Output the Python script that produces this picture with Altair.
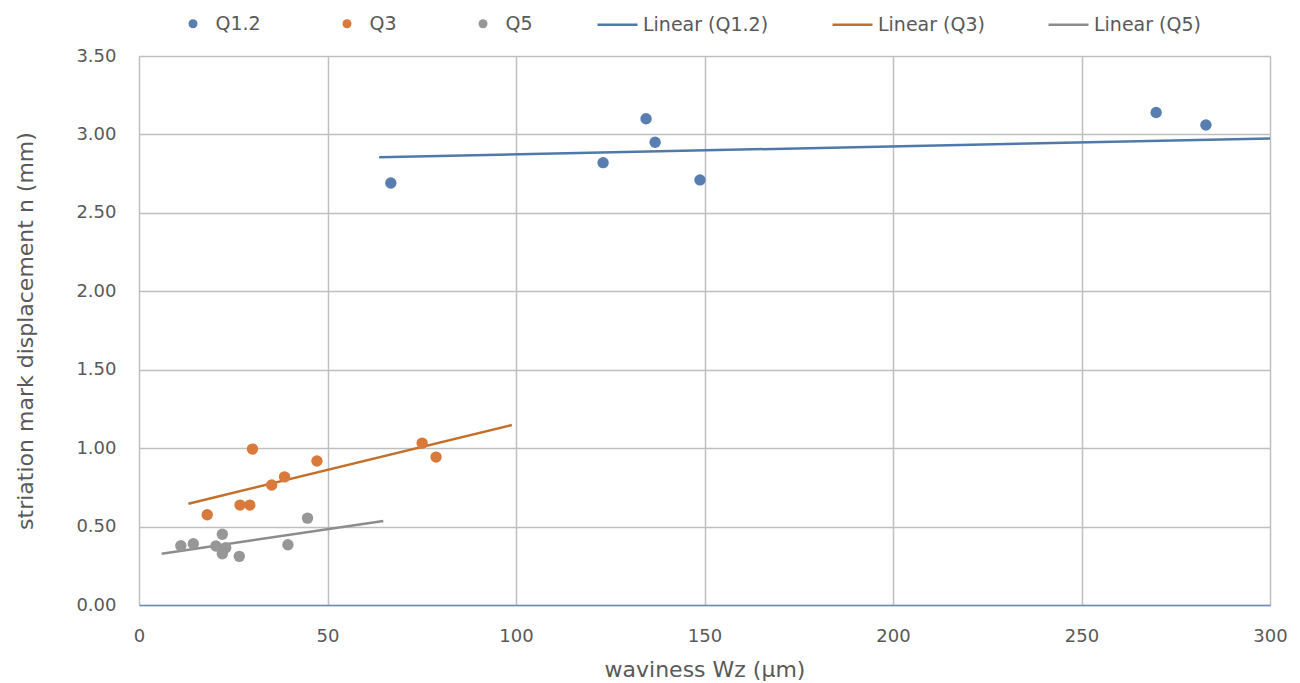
import altair as alt
import pandas as pd

# ---- data ----
series_names = ["Q1.2", "Q3", "Q5"]
q12_x = [66.8, 123.1, 134.5, 136.9, 148.8, 269.8, 283.0]
q12_y = [2.69, 2.82, 3.10, 2.95, 2.71, 3.14, 3.06]
q3_x = [18.1, 26.8, 29.4, 30.1, 35.2, 38.6, 47.2, 75.1, 78.8]
q3_y = [0.575, 0.637, 0.637, 0.994, 0.765, 0.817, 0.918, 1.032, 0.943]
q5_x = [11.1, 14.4, 20.4, 22.1, 23.0, 22.1, 26.6, 39.5, 44.7]
q5_y = [0.378, 0.391, 0.376, 0.451, 0.365, 0.327, 0.310, 0.384, 0.554]

trend_names = ["Linear (Q1.2)", "Linear (Q3)", "Linear (Q5)"]
trend_x_start = [63.7, 13.1, 6.0]
trend_x_end = [300.0, 98.9, 64.8]
trend_y_start = [2.855, 0.646, 0.327]
trend_y_end = [2.974, 1.147, 0.535]

x_ticks = [0, 50, 100, 150, 200, 250, 300]
y_ticks = [0, 0.5, 1.0, 1.5, 2.0, 2.5, 3.0, 3.5]

point_colors = ["#587eb1", "#d9793b", "#979797"]
line_colors = ["#4f79aa", "#c46f2a", "#8c8c8c"]

# ---- tables ----
rows = []
for name, xs, ys in zip(series_names, [q12_x, q3_x, q5_x], [q12_y, q3_y, q5_y]):
    for xv, yv in zip(xs, ys):
        rows.append({"series": name, "x": xv, "y": yv})
points = pd.DataFrame(rows)

lrows = []
for name, x0, x1, y0, y1 in zip(trend_names, trend_x_start, trend_x_end, trend_y_start, trend_y_end):
    lrows.append({"trend": name, "x": x0, "y": y0})
    lrows.append({"trend": name, "x": x1, "y": y1})
lines = pd.DataFrame(lrows)

FONT = "DejaVu Sans"
TXT = "#595959"

x_scale = alt.Scale(domain=[0, 300], nice=False, zero=False)
y_scale = alt.Scale(domain=[0, 3.5], nice=False, zero=False)

x_axis = alt.Axis(
    values=x_ticks, title="waviness Wz (µm)", grid=True, gridColor="#bfbfbf", gridWidth=1.5,
    domain=True, domainColor="#6a8dbd", domainWidth=1.5, ticks=False, tickSize=0,
    labelFont=FONT, labelFontSize=18, labelColor=TXT, labelPadding=22, labelFlush=False,
    titleFont=FONT, titleFontSize=22, titleFontWeight="normal", titleColor=TXT,
    titleY=71, titleBaseline="alphabetic",
)
y_axis = alt.Axis(
    values=y_ticks, format=".2f", title="striation mark displacement n (mm)", grid=True,
    gridColor="#bfbfbf", gridWidth=1.5, domain=False, ticks=False, tickSize=0,
    labelFont=FONT, labelFontSize=18, labelColor=TXT, labelPadding=23, labelFlush=False,
    titleFont=FONT, titleFontSize=22, titleFontWeight="normal", titleColor=TXT,
    titleX=-107, titleY=274.5, titleBaseline="alphabetic", titleAngle=270,
)

pts = alt.Chart(points).mark_circle(size=130, opacity=1).encode(
    x=alt.X("x:Q", scale=x_scale, axis=x_axis),
    y=alt.Y("y:Q", scale=y_scale, axis=y_axis),
    fill=alt.Fill(
        "series:N",
        scale=alt.Scale(domain=series_names, range=point_colors),
        legend=alt.Legend(
            orient="none", legendX=44.5, legendY=-42, direction="horizontal", title=None,
            symbolType="circle", symbolSize=81, symbolStrokeWidth=0,
            labelFont=FONT, labelFontSize=19, labelColor=TXT, labelOffset=13,
            columnPadding=76, padding=0,
        ),
    ),
)

trend = alt.Chart(lines).mark_line(strokeWidth=2.5).encode(
    x=alt.X("x:Q", scale=x_scale),
    y=alt.Y("y:Q", scale=y_scale),
    detail="trend:N",
    stroke=alt.Stroke(
        "trend:N",
        scale=alt.Scale(domain=trend_names, range=line_colors),
        legend=alt.Legend(
            orient="none", legendX=457, legendY=-53, direction="horizontal", title=None,
            symbolType="stroke", symbolSize=1600, symbolStrokeWidth=2.5,
            labelFont=FONT, labelFontSize=19, labelColor=TXT, labelOffset=4,
            columnPadding=58, padding=0,
        ),
    ),
)

chart = alt.layer(trend, pts).properties(
    width=1131, height=549,
    autosize=alt.AutoSizeParams(type="none"),
    padding={"left": 131, "top": 48, "right": 22, "bottom": 78},
).configure_view(strokeWidth=0).configure(background="white")

chart.save("out.html", embed_options={"renderer": "svg", "actions": False})
